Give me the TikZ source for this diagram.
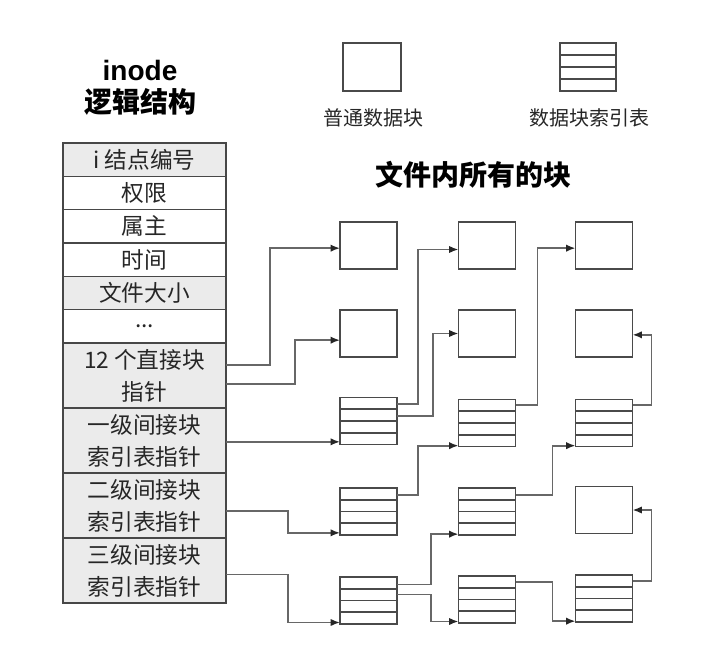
\documentclass[tikz,border=0pt]{standalone}
\usepackage{fontspec}
\setmainfont{Liberation Sans}
\newfontfamily\cjk{Noto Sans CJK SC}
\usetikzlibrary{arrows.meta,positioning,calc}

\definecolor{cellgray}{HTML}{EBEBEB}
\definecolor{tableline}{HTML}{474747}
\definecolor{blkline}{HTML}{4A4A4A}
\definecolor{linkgray}{HTML}{676767}

\begin{document}
\begin{tikzpicture}[x=0.75pt,y=-0.75pt,
  cell/.style={draw=tableline, line width=1pt, fill=cellgray, minimum width=122.25pt,
    minimum height=25pt, inner sep=0pt, outer sep=0pt, align=center, text=black!85,
    font=\cjk\fontsize{17}{24}\selectfont},
  plaincell/.style={cell, fill=white},
  tallcell/.style={cell, minimum height=48.75pt},
  datablk/.style={draw=blkline, line width=1.2pt, minimum width=42.75pt, minimum height=35.25pt,
    inner sep=0pt, outer sep=0pt},
  idxblk/.style={datablk, path picture={
    \foreach \k in {1,2,3}
      \draw[blkline, line width=1.2pt]
        ($(path picture bounding box.north west)!\k/4!(path picture bounding box.south west)$) --
        ($(path picture bounding box.north east)!\k/4!(path picture bounding box.south east)$);}},
  link/.style={draw=linkgray, line width=1.3pt, -{Latex[length=7pt,width=5.5pt,color=black!85]}},
  lbl/.style={font=\cjk\fontsize{15}{18}\selectfont, text=black!85}
]
\useasboundingbox (0,0) rectangle (723,659);

% inode logical structure — heading
\node[font=\bfseries\fontsize{21}{24}\selectfont] (hInode) at (140,70) {inode};
\node[font=\cjk\bfseries\fontsize{21}{24}\selectfont] (hLogic) at (140,102) {逻辑结构};

% inode table, top to bottom
\node[cell, anchor=north] (rNum) at (144.5,143) {i 结点编号};
\node[plaincell, below=0pt of rNum] (rPerm) {权限};
\node[plaincell, below=0pt of rPerm] (rOwner) {属主};
\node[plaincell, below=0pt of rOwner] (rTime) {时间};
\node[cell, below=0pt of rTime] (rSize) {文件大小};
\node[plaincell, below=0pt of rSize] (rDots) {...};
\node[tallcell, below=0pt of rDots] (rDirect) {12 个直接块\\指针};
\node[tallcell, below=0pt of rDirect] (rInd1) {一级间接块\\索引表指针};
\node[tallcell, below=0pt of rInd1] (rInd2) {二级间接块\\索引表指针};
\node[tallcell, below=0pt of rInd2] (rInd3) {三级间接块\\索引表指针};

% legend
\node[datablk, minimum width=43.5pt, minimum height=36pt] (lgData) at (372,67) {};
\node[lbl] (lgDataTxt) at (373,118) {普通数据块};
\node[idxblk, minimum width=42pt, minimum height=36pt] (lgIdx) at (588,67) {};
\node[lbl] (lgIdxTxt) at (589,118) {数据块索引表};
\node[font=\cjk\bfseries\fontsize{21}{24}\selectfont] (hBlocks) at (473,175) {文件内所有的块};

% all blocks of the file: columns 1..3, rows A..E
\node[datablk] (dA1) at (368.5,245.5) {};
\node[datablk] (dA2) at (487,245.5) {};
\node[datablk] (dA3) at (604,245.5) {};
\node[datablk] (dB1) at (368.5,333.5) {};
\node[datablk] (dB2) at (487,333.5) {};
\node[datablk] (dB3) at (604,333.5) {};
\node[idxblk] (iC1) at (368.5,421) {};
\node[idxblk] (iC2) at (487,423) {};
\node[idxblk] (iC3) at (604,423) {};
\node[idxblk] (iD1) at (368.5,511.5) {};
\node[idxblk] (iD2) at (487,511.5) {};
\node[datablk] (dD3) at (604,510) {};
\node[idxblk] (iE1) at (368.5,600.5) {};
\node[idxblk] (iE2) at (487,599.5) {};
\node[idxblk] (iE3) at (604,598.5) {};

% pointers from the inode
\draw[link] ([yshift=8pt]rDirect.east) -- ++(44,0) |- ([yshift=-2pt]dA1.west);
\draw[link] ([yshift=-6.5pt]rDirect.east) -- ++(69,0) |- ([yshift=-5pt]dB1.west);
\draw[link] ([yshift=-1pt]rInd1.east) -- ([yshift=-1pt]rInd1.east -| iC1.west);
\draw[link] ([yshift=-4pt]rInd2.east) -- ++(62,0) |- ([yshift=-16pt]iD1.west);
\draw[link] ([yshift=-3pt]rInd3.east) -- ++(62,0) |- ([yshift=-16.5pt]iE1.west);

% first-level index tables
\draw[link] ([yshift=12.5pt]iC1.east) -- ++(21,0) |- ([yshift=-3pt]dA2.west);
\draw[link] ([yshift=3.5pt]iC1.east) -- ++(36,0) |- (dB2.west);
\draw[link] ([yshift=12.4pt]iD1.east) -- ++(21,0) |- ([yshift=-17pt]iC2.west);
\draw[link] ([yshift=12pt]iE1.east) -- ++(34,0) |- ([yshift=-17pt]iD2.west);
\draw[link] ([yshift=4.5pt]iE1.east) -- ++(34,0) |- ([yshift=-16.5pt]iE2.west);

% second-level index tables
\draw[link] ([yshift=13.5pt]iC2.east) -- ++(22,0) |- ([yshift=-2pt]dA3.west);
\draw[link] ([yshift=12.4pt]iD2.east) -- ++(37,0) |- ([yshift=-17pt]iC3.west);
\draw[link] ([yshift=13pt]iE2.east) -- ++(37,0) |- ([yshift=-17pt]iE3.west);

% third column points back up
\draw[link] ([yshift=13.5pt]iC3.east) -- ++(19,0) |- ([yshift=-1pt]dB3.east);
\draw[link] ([yshift=13pt]iE3.east) -- ++(19,0) |- (dD3.east);

\end{tikzpicture}
\end{document}
